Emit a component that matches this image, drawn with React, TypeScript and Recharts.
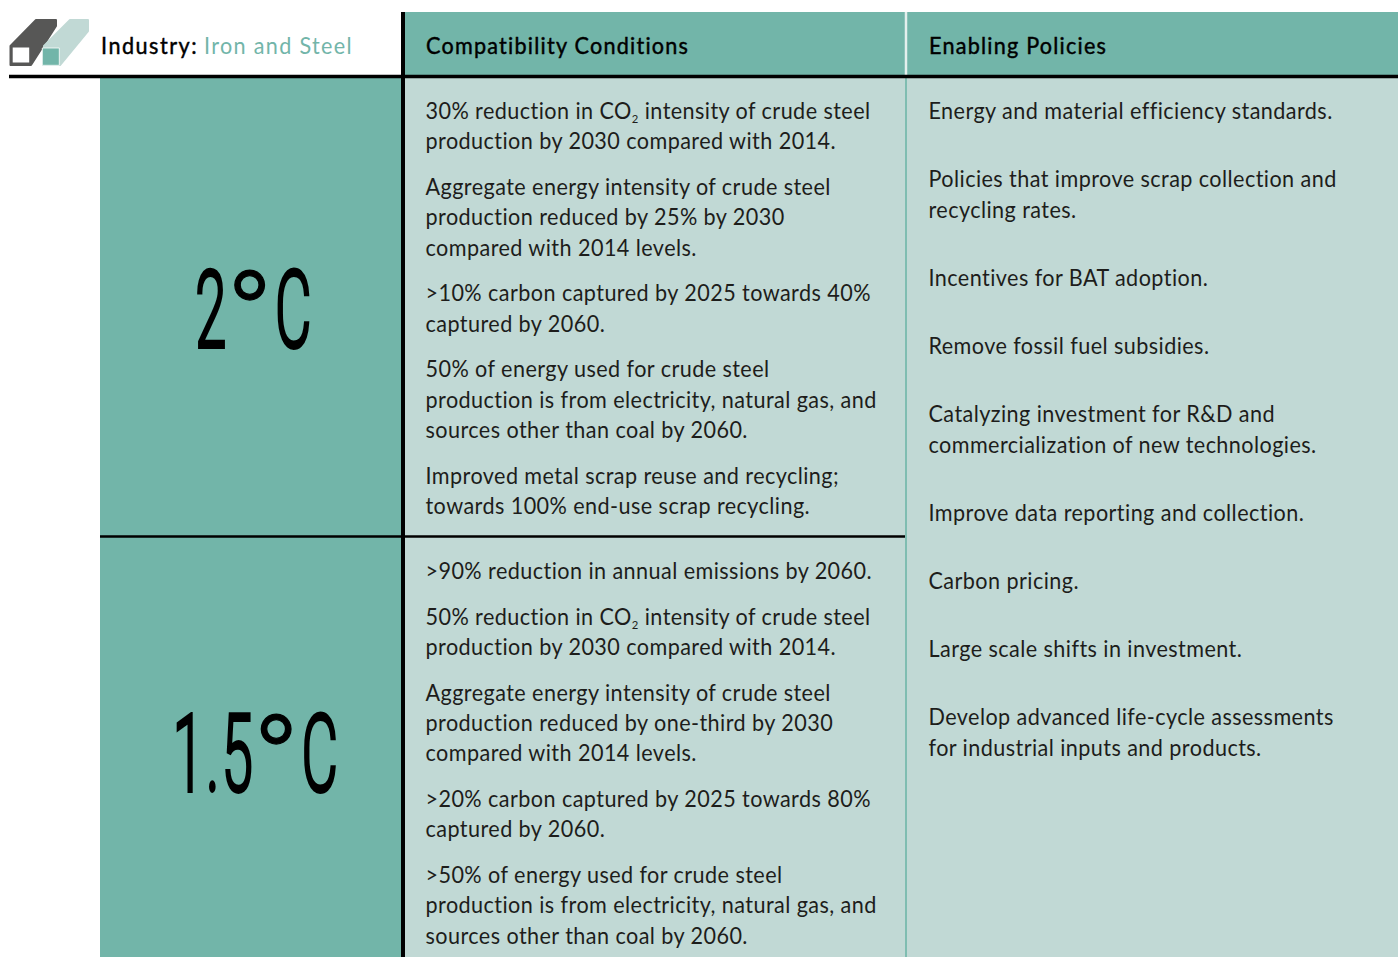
import { ComposedChart, Customized, ReferenceArea, ReferenceLine, Scatter, XAxis, YAxis } from 'recharts'

const W = 1398
const H = 957
const TEAL = '#72b5a9'
const PALE = '#c1d9d5'
const INK = '#1d1d1b'
const FONT = 'Lato, sans-serif'

const titleLabel = 'Industry:'
const titleValue = 'Iron and Steel'
const columnHeads = ['Compatibility Conditions', 'Enabling Policies']
const scenarios = ['2°C', '1.5°C']

const conditions2C = [
  ['30% reduction in CO₂ intensity of crude steel', 'production by 2030 compared with 2014.'],
  ['Aggregate energy intensity of crude steel', 'production reduced by 25% by 2030', 'compared with 2014 levels.'],
  ['>10% carbon captured by 2025 towards 40%', 'captured by 2060.'],
  ['50% of energy used for crude steel', 'production is from electricity, natural gas, and', 'sources other than coal by 2060.'],
  ['Improved metal scrap reuse and recycling;', 'towards 100% end-use scrap recycling.'],
]
const conditions15C = [
  ['>90% reduction in annual emissions by 2060.'],
  ['50% reduction in CO₂ intensity of crude steel', 'production by 2030 compared with 2014.'],
  ['Aggregate energy intensity of crude steel', 'production reduced by one-third by 2030', 'compared with 2014 levels.'],
  ['>20% carbon captured by 2025 towards 80%', 'captured by 2060.'],
  ['>50% of energy used for crude steel', 'production is from electricity, natural gas, and', 'sources other than coal by 2060.'],
]
const policies = [
  ['Energy and material efficiency standards.'],
  ['Policies that improve scrap collection and', 'recycling rates.'],
  ['Incentives for BAT adoption.'],
  ['Remove fossil fuel subsidies.'],
  ['Catalyzing investment for R&D and', 'commercialization of new technologies.'],
  ['Improve data reporting and collection.'],
  ['Carbon pricing.'],
  ['Large scale shifts in investment.'],
  ['Develop advanced life-cycle assessments', 'for industrial inputs and products.'],
]

type Line = { x: number; y: number; text: string }

// stack paragraphs downwards from a first baseline
function layout(paras: string[][], x: number, top: number, leading: number, gap: number): Line[] {
  const out: Line[] = []
  let y = top
  paras.forEach((p) => {
    p.forEach((text) => {
      out.push({ x, y, text })
      y += leading
    })
    y += gap
  })
  return out
}

const bodyLines = [
  ...layout(conditions2C, 425.5, 119, 30.4, 15.2),
  ...layout(conditions15C, 425.5, 579, 30.4, 15.2),
  ...layout(policies, 928.5, 119, 30.4, 37.8),
]
const industryLine = [{ x: 101, y: 54, text: titleLabel }]
const headLines = [
  { x: 426, y: 54, text: columnHeads[0] },
  { x: 929, y: 54, text: columnHeads[1] },
]
const titleLines = [{ x: 204, y: 54, text: titleValue }]
// x is the centre of the degree ring
const scenarioLines = [
  { x: 249.5, y: 347, text: scenarios[0] },
  { x: 276, y: 791, text: scenarios[1] },
]

function BodyText(props: any) {
  const { cx, cy, payload } = props
  const parts = String(payload.text).split('₂')
  return (
    <text transform={`translate(${cx} ${cy}) scale(0.94 1)`} fontFamily={FONT} fontSize={23} letterSpacing={0.45} fill={INK}>
      {parts[0]}
      {parts.length > 1 && (
        <>
          <tspan fontSize={12} dy={4}>2</tspan>
          <tspan dy={-4}>{parts[1]}</tspan>
        </>
      )}
    </text>
  )
}

function HeadText(props: any) {
  const { cx, cy, payload, spacing } = props
  return (
    <text transform={`translate(${cx} ${cy}) scale(0.94 1)`} fontFamily={FONT} fontSize={23} letterSpacing={spacing} fill="#000" stroke="#000" strokeWidth={0.45}>
      {payload.text}
    </text>
  )
}

function TitleText(props: any) {
  const { cx, cy, payload } = props
  return (
    <text transform={`translate(${cx} ${cy}) scale(0.94 1)`} fontFamily={FONT} fontSize={23} letterSpacing={1.4} fill={TEAL}>
      {payload.text}
    </text>
  )
}

function ScenarioText(props: any) {
  const { cx, cy, payload } = props
  const [left, right] = String(payload.text).split('°')
  const style = { fontFamily: 'Roboto, sans-serif', fontWeight: 300, fontSize: 100, fill: '#000', stroke: '#000' }
  return (
    <g>
      <text transform={`translate(${cx - 21} ${cy}) scale(0.56 1.08)`} textAnchor="end" letterSpacing={4} strokeWidth={3.5} {...style}>
        {left}
      </text>
      <text transform={`translate(${cx} ${cy + 12.5}) scale(1.25 1.25)`} textAnchor="middle" strokeWidth={1} {...style}>
        °
      </text>
      <text transform={`translate(${cx + 25.5} ${cy}) scale(0.56 1.08)`} strokeWidth={3.5} {...style}>
        {right}
      </text>
    </g>
  )
}

function Icon() {
  return (
    <g strokeLinejoin="round">
      <polygon points="10.5,46 36,20 56,20 56,26 31,65 10.5,65" fill="#575756" stroke="#575756" strokeWidth={2} />
      <rect x={12.7} y={47.5} width={16.5} height={15} fill="#fff" />
      <polygon points="44,46 70,20 88,20 88,31 60,65 43,65" fill={PALE} stroke={PALE} strokeWidth={2} />
      <rect x={42.3} y={48} width={17} height={17.3} fill={TEAL} stroke="#fff" strokeWidth={0.8} />
    </g>
  )
}

export default function App() {
  return (
    <div style={{ position: 'absolute', left: 0, top: 0, width: W, height: H, background: '#fff' }}>
      <ComposedChart width={W} height={H} margin={{ top: 0, right: 0, bottom: 0, left: 0 }}>
        <XAxis type="number" dataKey="x" domain={[0, W]} hide />
        <YAxis type="number" dataKey="y" domain={[0, H]} reversed hide />
        <ReferenceArea x1={401} x2={1398} y1={12} y2={76} fill={TEAL} fillOpacity={1} stroke="none" />
        <ReferenceArea x1={100} x2={401} y1={76} y2={957} fill={TEAL} fillOpacity={1} stroke="none" />
        <ReferenceArea x1={405} x2={1398} y1={76} y2={957} fill={PALE} fillOpacity={1} stroke="none" />
        <ReferenceLine segment={[{ x: 906, y: 12 }, { x: 906, y: 75 }]} stroke="#e4efed" strokeWidth={2.5} />
        <ReferenceLine segment={[{ x: 906, y: 78 }, { x: 906, y: 957 }]} stroke="#7fbdb1" strokeWidth={2} />
        <ReferenceLine segment={[{ x: 9, y: 76.5 }, { x: 1398, y: 76.5 }]} stroke="#000" strokeWidth={3.5} />
        <ReferenceLine segment={[{ x: 403, y: 12 }, { x: 403, y: 957 }]} stroke="#000" strokeWidth={4} />
        <ReferenceLine segment={[{ x: 100, y: 536.5 }, { x: 905, y: 536.5 }]} stroke="#000" strokeWidth={2.5} />
        <Customized component={<Icon />} />
        <Scatter data={industryLine} dataKey="y" shape={<HeadText spacing={1.6} />} isAnimationActive={false} />
        <Scatter data={headLines} dataKey="y" shape={<HeadText spacing={1.3} />} isAnimationActive={false} />
        <Scatter data={titleLines} dataKey="y" shape={<TitleText />} isAnimationActive={false} />
        <Scatter data={scenarioLines} dataKey="y" shape={<ScenarioText />} isAnimationActive={false} />
        <Scatter data={bodyLines} dataKey="y" shape={<BodyText />} isAnimationActive={false} />
      </ComposedChart>
    </div>
  )
}
